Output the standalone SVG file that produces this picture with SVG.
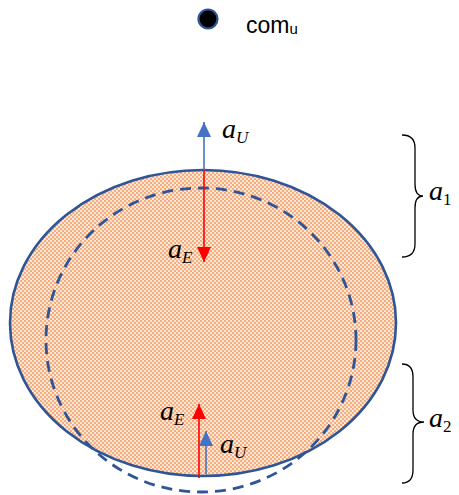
<svg xmlns="http://www.w3.org/2000/svg" width="459" height="495" viewBox="0 0 459 495">
  <defs>
    <pattern id="chk" width="4" height="4" patternUnits="userSpaceOnUse">
      <rect width="4" height="4" fill="#fde6d6"/>
      <rect x="0" y="0" width="2" height="2" fill="#f4ad7c"/>
      <rect x="2" y="2" width="2" height="2" fill="#f4ad7c"/>
    </pattern>
    <marker id="hBlue" viewBox="0 0 10 10" refX="10" refY="5" markerWidth="10" markerHeight="10" markerUnits="userSpaceOnUse" orient="auto" overflow="visible">
      <path d="M-5,-2 L10,5 L-5,12 Z" fill="#4472c4"/>
    </marker>
    <marker id="hRed" viewBox="0 0 10 10" refX="10" refY="5" markerWidth="10" markerHeight="10" markerUnits="userSpaceOnUse" orient="auto" overflow="visible">
      <path d="M-5,-2 L10,5 L-5,12 Z" fill="#ff0000"/>
    </marker>
  </defs>
  <style>
    .math { font-family: "Liberation Serif", "DejaVu Serif", serif; font-style: italic; font-size: 28px; fill: #000; }
    .sub { font-size: 17px; }
    .up { font-style: normal; }
    .brace { fill: none; stroke: #000; stroke-width: 1.3; }
    .blue { stroke: #4472c4; stroke-width: 1.6; fill: none; }
    .red { stroke: #ff0000; stroke-width: 1.6; fill: none; }
  </style>

  <g id="com">
    <circle cx="208" cy="19" r="9.5" fill="#000" stroke="#2f5597" stroke-width="2.2"/>
    <text x="246" y="33" font-family="Liberation Sans, Arial, sans-serif" font-size="23">com<tspan font-size="15" dy="1">u</tspan></text>
  </g>

  <g id="body">
    <ellipse cx="203" cy="323" rx="193" ry="153" fill="url(#chk)"/>
  </g>
  <g id="dashed-shape">
    <ellipse cx="201" cy="340" rx="155" ry="152" fill="none" stroke="#2f5597" stroke-width="2.8" stroke-dasharray="11,7"/>
  </g>
  <g id="body-outline">
    <ellipse cx="203" cy="323" rx="193" ry="153" fill="none" stroke="#2f5597" stroke-width="2.6"/>
  </g>

  <g id="connectors">
    <line class="blue" x1="204" y1="170" x2="204" y2="122" marker-end="url(#hBlue)"/>
    <line class="red" x1="204" y1="170" x2="204" y2="262" marker-end="url(#hRed)"/>
    <line class="red" x1="199" y1="478" x2="199" y2="404" marker-end="url(#hRed)"/>
    <line class="blue" x1="206" y1="474" x2="206" y2="431" marker-end="url(#hBlue)"/>
  </g>

  <g id="label-aU-top"><text class="math" x="222" y="138">a<tspan class="sub" dy="5">U</tspan></text></g>
  <g id="label-aE-top"><text class="math" x="168" y="258">a<tspan class="sub" dy="5">E</tspan></text></g>
  <g id="label-aE-bot"><text class="math" x="160" y="420">a<tspan class="sub" dy="5">E</tspan></text></g>
  <g id="label-aU-bot"><text class="math" x="220" y="453">a<tspan class="sub" dy="5">U</tspan></text></g>

  <g id="brace1">
    <path class="brace" d="M402,135 Q415,135 415,148 L415,184 Q415,196 423,196 Q415,196 415,208 L415,244 Q415,257 402,257"/>
    <text class="math" x="429" y="200">a<tspan class="sub up" dy="5">1</tspan></text>
  </g>
  <g id="brace2">
    <path class="brace" d="M402,364 Q413,364 413,377 L413,410 Q413,422 424,422 Q413,422 413,434 L413,470 Q413,483 402,483"/>
    <text class="math" x="429" y="427">a<tspan class="sub up" dy="5">2</tspan></text>
  </g>
</svg>
